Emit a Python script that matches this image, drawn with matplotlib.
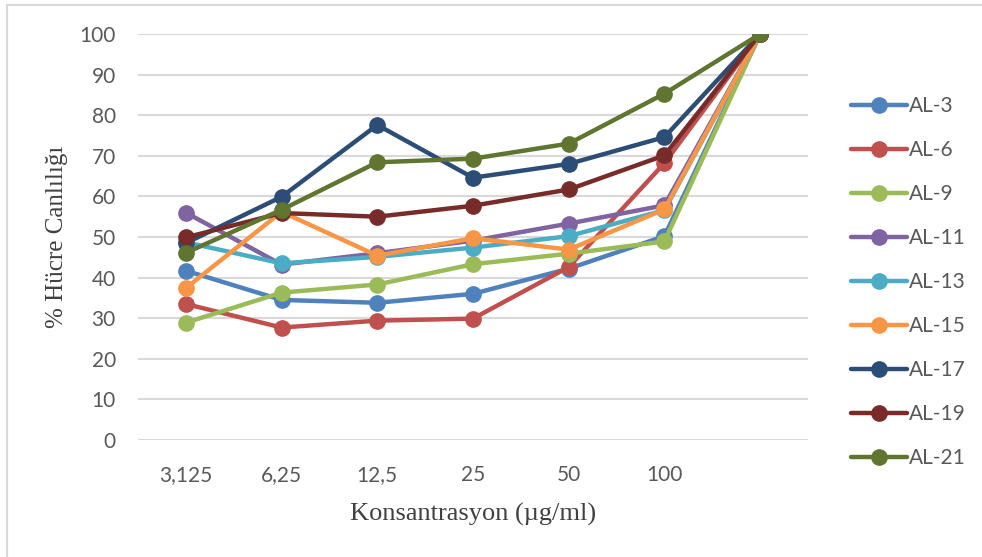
import matplotlib
matplotlib.use('Agg')
import matplotlib.pyplot as plt
from matplotlib.patches import Rectangle

# konsantrasyonlar (son nokta etiketsiz kontrol)
konsantrasyon = ['3,125', '6,25', '12,5', '25', '50', '100', '']

al_3 = [41.7, 34.5, 33.8, 36.0, 42.2, 50.2, 100]
al_6 = [33.5, 27.7, 29.4, 29.9, 42.6, 68.2, 100]
al_9 = [28.9, 36.3, 38.3, 43.3, 45.9, 48.9, 100]
al_11 = [56.0, 43.2, 46.0, 49.1, 53.3, 57.8, 100]
al_13 = [48.7, 43.5, 45.1, 47.4, 50.2, 56.6, 100]
al_15 = [37.4, 56.2, 45.4, 49.7, 46.9, 56.8, 100]
al_17 = [48.5, 59.9, 77.6, 64.6, 68.0, 74.6, 100]
al_19 = [49.9, 55.9, 55.0, 57.7, 61.7, 70.1, 100]
al_21 = [46.1, 56.7, 68.4, 69.3, 73.0, 85.3, 100]

seriler = [
    ('AL-3', al_3, '#4F81BD'),
    ('AL-6', al_6, '#C0504D'),
    ('AL-9', al_9, '#9BBB59'),
    ('AL-11', al_11, '#8064A2'),
    ('AL-13', al_13, '#4BACC6'),
    ('AL-15', al_15, '#F79646'),
    ('AL-17', al_17, '#2C4D75'),
    ('AL-19', al_19, '#772C2A'),
    ('AL-21', al_21, '#5F7530'),
]

plt.rcParams['font.family'] = ['Lato', 'DejaVu Sans']

fig = plt.figure(figsize=(9.82, 5.57), dpi=100)
ax = fig.add_axes([138 / 982, 1 - 440 / 557, 670 / 982, 406 / 557])

x = list(range(len(konsantrasyon)))
for ad, deger, renk in seriler:
    ax.plot(x, deger, color=renk, lw=3.2, marker='o', ms=11,
            solid_capstyle='round', label=ad, zorder=3)

ax.set_xlim(-0.5, len(konsantrasyon) - 0.5)
ax.set_ylim(0, 100)
ax.set_yticks(range(0, 101, 10))
ax.set_xticks(x)
ax.set_xticklabels(konsantrasyon)
ax.tick_params(length=0, labelsize=15, labelcolor='#595959')
ax.tick_params(axis='x', pad=18)
ax.tick_params(axis='y', pad=16)
ax.yaxis.grid(True, color='#D9D9D9', lw=1.5)
ax.set_axisbelow(True)
for s in ax.spines.values():
    s.set_visible(False)

ax.set_ylabel('% Hücre Canlılığı', family='Liberation Serif', fontsize=18,
              color='#404040', labelpad=8)
ax.set_xlabel('Konsantrasyon (µg/ml)', family='Liberation Serif', fontsize=19,
              color='#404040', labelpad=13)

leg = ax.legend(loc='center left', bbox_to_anchor=(832 / 982, 1 - 282 / 557),
                bbox_transform=fig.transFigure, frameon=False, fontsize=15,
                handlelength=2.7, handletextpad=0.1, labelspacing=1.15,
                labelcolor='#595959')

# grafik çerçevesi
fig.patches.append(Rectangle((7 / 982, -0.05), 1.2, 1 - 5 / 557 + 0.05,
                             transform=fig.transFigure, fill=False,
                             edgecolor='#D9D9D9', lw=1.5))

fig.savefig('out.png', dpi=100)
